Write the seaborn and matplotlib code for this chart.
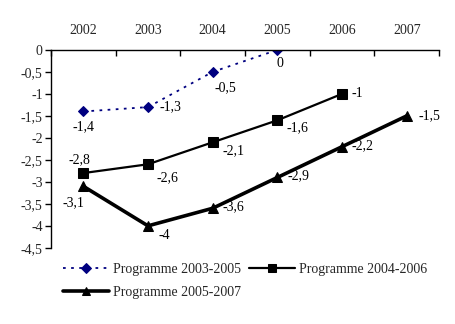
import matplotlib
matplotlib.use("Agg")
import matplotlib.pyplot as plt
import seaborn as sns
import pandas as pd
import numpy as np
from matplotlib.ticker import FixedLocator

years = ["2002", "2003", "2004", "2005", "2006", "2007"]
prog_2003_2005 = [-1.4, -1.3, -0.5, 0.0]
prog_2004_2006 = [-2.8, -2.6, -2.1, -1.6, -1.0]
prog_2005_2007 = [-3.1, -4.0, -3.6, -2.9, -2.2, -1.5]
series_names = ["Programme 2003-2005", "Programme 2004-2006", "Programme 2005-2007"]
y_ticks = [0, -0.5, -1, -1.5, -2, -2.5, -3, -3.5, -4, -4.5]

rows = []
for name, vals in zip(series_names, [prog_2003_2005, prog_2004_2006, prog_2005_2007]):
    for i, v in enumerate(vals):
        rows.append({"x": i, "value": v, "series": name})
df = pd.DataFrame(rows)

sns.set_theme(style="white")
plt.rcParams['font.family'] = ['Liberation Serif', 'DejaVu Serif']
FS = 10

fig = plt.figure(figsize=(4.55, 3.24), dpi=100)
ax = fig.add_axes([0.112, 0.235, 0.853, 0.611])

styles = {
    "Programme 2003-2005": dict(color="#000080", marker="D", markersize=5.5, lw=1.3, ls=(0, (1.5, 3))),
    "Programme 2004-2006": dict(color="black", marker="s", markersize=6.5, lw=1.6, ls="-"),
    "Programme 2005-2007": dict(color="black", marker="^", markersize=6.5, lw=2.6, ls="-"),
}
for name in series_names:
    st = styles[name]
    sub = df[df.series == name]
    sns.lineplot(data=sub, x="x", y="value", ax=ax, color=st["color"], marker=st["marker"],
                 markersize=st["markersize"], linewidth=st["lw"], linestyle=st["ls"],
                 markeredgecolor=st["color"], label=name, errorbar=None)

def fmt(v):
    s = f"{v:g}".replace(".", ",")
    if s == "-0":
        s = "0"
    return s

# label offsets (points)
offs = {
    "Programme 2003-2005": [(0, -11), (16, 0), (9, -11.5), (1.5, -9.5)],
    "Programme 2004-2006": [(-3, 9.5), (14, -9.5), (15, -6), (14.5, -5), (11, 0)],
    "Programme 2005-2007": [(-7, -11.5), (11.5, -7), (15, 1), (15, 1), (14.5, 0.5), (16, 0)],
}
for name, vals in zip(series_names, [prog_2003_2005, prog_2004_2006, prog_2005_2007]):
    for i, v in enumerate(vals):
        dx, dy = offs[name][i]
        ax.annotate(fmt(v), (i, v), xytext=(dx, dy), textcoords="offset points",
                    ha="center", va="center", fontsize=FS, color="black")

ax.set_xlim(-0.5, 5.5)
ax.set_ylim(-4.5, 0)
ax.set_yticks(y_ticks)
ax.set_yticklabels([fmt(t) for t in y_ticks], fontsize=FS)
ax.xaxis.tick_top()
ax.set_xticks(range(len(years)))
ax.set_xticklabels(years, fontsize=FS)
ax.xaxis.set_minor_locator(FixedLocator(np.arange(-0.5, 6.0, 1.0)))
ax.tick_params(axis="x", which="major", length=0, pad=9)
ax.tick_params(axis="x", which="minor", direction="in", length=4, width=1, top=True, bottom=False, color="black")
ax.tick_params(axis="y", which="major", direction="out", length=4, width=1, left=True, color="black", pad=2)
ax.set_xlabel("")
ax.set_ylabel("")
for s in ["right", "bottom"]:
    ax.spines[s].set_visible(False)
for s in ["left", "top"]:
    ax.spines[s].set_color("black")
    ax.spines[s].set_linewidth(1)
ax.grid(False)

handles, labels = ax.get_legend_handles_labels()
order = [0, 2, 1]
ax.legend([handles[i] for i in order], [labels[i] for i in order],
          loc="upper center", bbox_to_anchor=(0.5, -0.075), ncol=2, frameon=False,
          fontsize=FS, handlelength=3.3, handletextpad=0.3, columnspacing=0.6,
          labelspacing=0.75, borderaxespad=0, borderpad=0, markerscale=0.85)

fig.savefig("out.png", dpi=100)
